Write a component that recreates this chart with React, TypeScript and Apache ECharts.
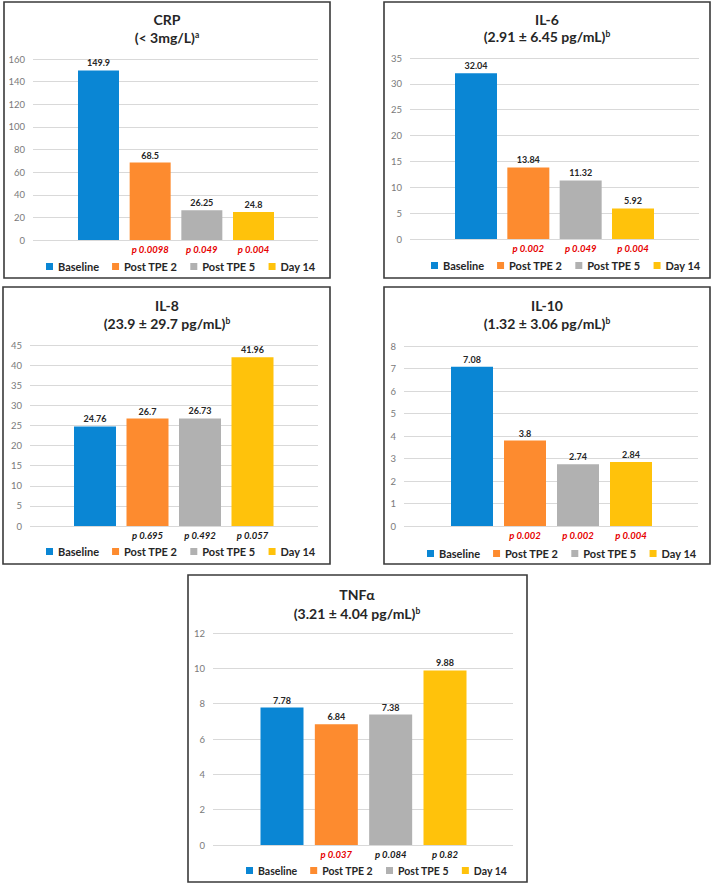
import React, { useEffect, useRef } from "react";
import * as echarts from "echarts";

const legendNames = ["Baseline", "Post TPE 2", "Post TPE 5", "Day 14"];
const barColors = ["#0a86d4", "#fd8b2f", "#b1b1b1", "#ffc20b"];

const crpValues = [149.9, 68.5, 26.25, 24.8];
const crpP = ["0.0098", "0.049", "0.004"];
const il6Values = [32.04, 13.84, 11.32, 5.92];
const il6P = ["0.002", "0.049", "0.004"];
const il8Values = [24.76, 26.7, 26.73, 41.96];
const il8P = ["0.695", "0.492", "0.057"];
const il10Values = [7.08, 3.8, 2.74, 2.84];
const il10P = ["0.002", "0.002", "0.004"];
const tnfValues = [7.78, 6.84, 7.38, 9.88];
const tnfP = ["0.037", "0.084", "0.82"];

const titles = ["CRP", "IL-6", "IL-8", "IL-10", "TNFα"];
const subtitles = ["(< 3mg/L)", "(2.91 ± 6.45 pg/mL)", "(23.9 ± 29.7 pg/mL)", "(1.32 ± 3.06 pg/mL)", "(3.21 ± 4.04 pg/mL)"];
const superscripts = ["a", "b", "b", "b", "b"];
const yMaxes = [160, 35, 45, 8, 12];
const yIntervals = [20, 5, 5, 1, 2];
const allValues = [crpValues, il6Values, il8Values, il10Values, tnfValues];
const allP = [crpP, il6P, il8P, il10P, tnfP];

const FONT = "Lato, 'Open Sans', sans-serif";

// layout (pixels)
const layouts = [
  { box: [4, 2, 330, 278], plot: [33, 318, 59, 240], bars: [98.5, 253.5], bw: 41, tx: 167, t1: 19, t2: 37, lx: 46, ly: 268, lf: 11, lg: 13 },
  { box: [384, 2, 710, 278], plot: [410, 699, 58, 239], bars: [476, 633], bw: 42, tx: 547, t1: 19, t2: 36, lx: 431, ly: 267, lf: 11, lg: 13 },
  { box: [3, 287, 330, 564], plot: [30, 318, 345, 526], bars: [95, 252.5], bw: 42, tx: 167, t1: 305, t2: 323, lx: 46, ly: 553, lf: 11, lg: 13 },
  { box: [384, 287, 710, 564], plot: [404, 698, 346, 526], bars: [472, 631], bw: 42, tx: 547, t1: 305, t2: 323, lx: 427, ly: 555, lf: 11, lg: 13 },
  { box: [188, 575, 527, 882], plot: [213, 513, 633, 845], bars: [282, 445], bw: 43, tx: 357, t1: 594, t2: 613, lx: 246, ly: 872, lf: 10.5, lg: 13 },
];

function buildOption() {
  const grid: any[] = [];
  const xAxis: any[] = [];
  const yAxis: any[] = [];
  const series: any[] = [];
  const legend: any[] = [];
  const graphic: any[] = [];

  layouts.forEach((L, i) => {
    const [px1, px2, py1, py2] = L.plot;
    const spacing = (L.bars[1] - L.bars[0]) / 3;
    const bLeft = L.bars[0] - spacing / 2;
    grid.push({ left: px1, top: py1, width: px2 - px1, height: py2 - py1 });
    grid.push({ left: bLeft, top: py1, width: spacing * 4, height: py2 - py1 });

    xAxis.push({ gridIndex: 2 * i, type: "category", data: [""], show: false });
    const pLabels = allP[i].map((p) => ({
      value: "p " + p,
      textStyle: { color: parseFloat(p) < 0.05 ? "#e60000" : "#1a1a1a" },
    }));
    xAxis.push({
      gridIndex: 2 * i + 1,
      type: "category",
      data: [{ value: "" }, ...pLabels],
      axisLine: { show: false },
      axisTick: { show: false },
      axisLabel: {
        margin: 4,
        fontSize: 9.5,
        fontWeight: "bold",
        fontStyle: "italic",
        fontFamily: FONT,
        interval: 0,
      },
    });

    yAxis.push({
      gridIndex: 2 * i,
      type: "value",
      min: 0,
      max: yMaxes[i],
      interval: yIntervals[i],
      axisLine: { show: false },
      axisTick: { show: false },
      axisLabel: { color: "#7a7a7a", fontSize: 9.5, margin: 8, fontFamily: FONT },
      splitLine: { lineStyle: { color: "#d9d9d9", width: 1 } },
    });
    yAxis.push({
      gridIndex: 2 * i + 1,
      type: "value",
      min: 0,
      max: yMaxes[i],
      interval: yIntervals[i],
      show: false,
    });

    legendNames.forEach((name, k) => {
      series.push({
        type: "bar",
        name,
        xAxisIndex: 2 * i + 1,
        yAxisIndex: 2 * i + 1,
        barWidth: L.bw,
        barGap: "-100%",
        data: allValues[i].map((v, j) => (j === k ? v : "-")),
        itemStyle: { color: barColors[k] },
        label: {
          show: true,
          position: "top",
          distance: 3,
          fontSize: 9,
          fontWeight: "bold",
          color: "#262626",
          fontFamily: FONT,
        },
      });
    });

    legend.push({
      data: legendNames,
      left: L.lx,
      top: L.ly - 7,
      padding: 0,
      itemWidth: 7,
      itemHeight: 7,
      itemGap: L.lg,
      icon: "rect",
      selectedMode: false,
      textStyle: { fontSize: L.lf, fontWeight: "bold", color: "#262626", fontFamily: FONT },
    });

    const [bx1, by1, bx2, by2] = L.box;
    graphic.push({
      type: "rect",
      shape: { x: bx1, y: by1, width: bx2 - bx1, height: by2 - by1 },
      style: { fill: "none", stroke: "#3a3a3a", lineWidth: 1.6 },
      silent: true,
    });
    graphic.push({
      type: "text",
      x: L.tx,
      y: L.t1,
      style: {
        text: titles[i],
        fontSize: 14,
        fontWeight: "bold",
        fontFamily: FONT,
        fill: "#262626",
        align: "center",
        verticalAlign: "middle",
      },
    });
    graphic.push({
      type: "text",
      x: L.tx,
      y: L.t2,
      style: {
        text: subtitles[i] + "{sup|" + superscripts[i] + "}",
        fontSize: 14,
        fontWeight: "bold",
        fontFamily: FONT,
        fill: "#262626",
        align: "center",
        verticalAlign: "middle",
        rich: {
          sup: {
            fontSize: 8.5,
            fontWeight: "bold",
            fontFamily: FONT,
            fill: "#262626",
            verticalAlign: "top",
          },
        },
      },
    });
  });

  return {
    animation: false,
    backgroundColor: "#ffffff",
    grid,
    xAxis,
    yAxis,
    series,
    legend,
    graphic,
  };
}

export default function App() {
  const ref = useRef<HTMLDivElement>(null);
  useEffect(() => {
    if (!ref.current) return;
    const chart = echarts.init(ref.current, undefined, { renderer: "svg" });
    chart.setOption(buildOption() as any);
    return () => chart.dispose();
  }, []);
  return (
    <div
      ref={ref}
      style={{ position: "absolute", left: 0, top: 0, width: 715, height: 886, background: "#fff" }}
    />
  );
}
